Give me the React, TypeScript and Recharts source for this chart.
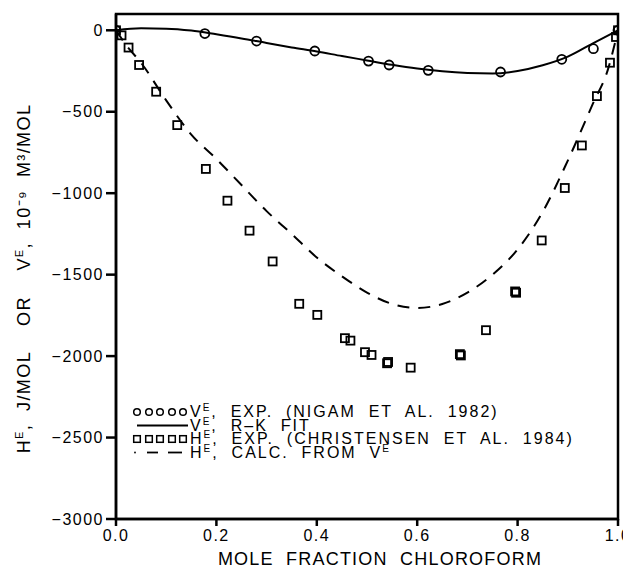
import React from "react";
import { ComposedChart, XAxis, YAxis, Line, Scatter, ReferenceArea } from "recharts";

const FONT = '"Liberation Sans", Arial, sans-serif';

const xTicks = [0, 0.2, 0.4, 0.6, 0.8, 1.0];
const yTicks = [0, -500, -1000, -1500, -2000, -2500, -3000];

// V^E experimental (Nigam et al. 1982)
const vExpX = [0, 0.177, 0.28, 0.396, 0.503, 0.544, 0.622, 0.766, 0.888, 0.951, 1.0];
const vExpY = [0, -20, -66, -127, -189, -213, -246, -256, -178, -113, 0];

// V^E R-K fit
const rkX = [0, 0.05, 0.1, 0.15, 0.2, 0.25, 0.3, 0.35, 0.4, 0.45, 0.5, 0.55, 0.6, 0.65, 0.7, 0.75, 0.8, 0.85, 0.9, 0.95, 1.0];
const rkY = [0, 12, 10, -2, -25, -50, -78, -105, -130, -158, -185, -212, -235, -252, -262, -265, -250, -215, -162, -80, 0];

// H^E experimental (Christensen et al. 1984)
const hExpX = [0, 0.011, 0.025, 0.046, 0.08, 0.122, 0.179, 0.222, 0.266, 0.312, 0.365, 0.401, 0.456, 0.467, 0.496, 0.509, 0.54, 0.542, 0.587, 0.685, 0.687, 0.737, 0.795, 0.797, 0.848, 0.894, 0.928, 0.958, 0.984, 0.996, 1.0];
const hExpY = [0, -31, -106, -213, -377, -582, -851, -1046, -1230, -1419, -1679, -1747, -1890, -1905, -1976, -1993, -2044, -2036, -2071, -1988, -1996, -1841, -1603, -1611, -1290, -968, -707, -404, -199, -41, 0];

// H^E calculated from V^E
const calcX = [0, 0.02, 0.05, 0.1, 0.15, 0.2, 0.25, 0.3, 0.35, 0.4, 0.45, 0.5, 0.55, 0.6, 0.65, 0.7, 0.75, 0.8, 0.85, 0.9, 0.95, 0.98, 1.0];
const calcY = [0, -90, -200, -430, -640, -790, -950, -1110, -1250, -1395, -1510, -1610, -1680, -1705, -1680, -1610, -1500, -1345, -1115, -800, -450, -240, 0];

const zip = (xs: number[], ys: number[]) => xs.map((x, i) => ({ x, y: ys[i] }));
const vExp = zip(vExpX, vExpY);
const rk = zip(rkX, rkY);
const hExp = zip(hExpX, hExpY);
const calc = zip(calcX, calcY);

const CircleShape = (p: any) => (
  <circle cx={p.cx} cy={p.cy} r={4.5} fill="none" stroke="#000" strokeWidth={1.8} />
);
const SquareShape = (p: any) => (
  <rect x={p.cx - 4} y={p.cy - 4} width={8} height={8} fill="none" stroke="#000" strokeWidth={1.8} />
);

const tickStyle = { fontFamily: FONT, fontSize: 16, fill: "#000", letterSpacing: 1.5 };

const YLabel = (props: any) => {
  const vb = props.viewBox;
  const cx = vb.x + vb.width - 86;
  const cy = vb.y + vb.height / 2 + 12;
  return (
    <text
      x={cx}
      y={cy}
      transform={`rotate(-90 ${cx} ${cy})`}
      textAnchor="middle"
      fontFamily={FONT}
      fontSize={18}
      letterSpacing={1.4}
      fill="#000"
      style={{ whiteSpace: "pre" }}
    >
      <tspan>H</tspan>
      <tspan dy={-7} fontSize={11}>E</tspan>
      <tspan dy={7}>{",  J/MOL    OR    V"}</tspan>
      <tspan dy={-7} fontSize={11}>E</tspan>
      <tspan dy={7}>{",  10⁻⁹  M³/MOL"}</tspan>
    </text>
  );
};

const XLabel = (props: any) => {
  const vb = props.viewBox;
  return (
    <text
      x={vb.x + vb.width / 2 + 13}
      y={vb.y + 46}
      textAnchor="middle"
      fontFamily={FONT}
      fontSize={18}
      letterSpacing={1.2}
      fill="#000"
      style={{ whiteSpace: "pre" }}
    >
      {"MOLE  FRACTION  CHLOROFORM"}
    </text>
  );
};

const legendRows = [
  { text: ",  EXP.  (NIGAM  ET  AL.  1982)", sym: "V" },
  { text: ",  R–K  FIT", sym: "V" },
  { text: ",  EXP.  (CHRISTENSEN  ET  AL.  1984)", sym: "H" },
  { text: ",  CALC.  FROM  V", sym: "H" },
];

const Legend2 = () => {
  const base = 409;
  const step = 13.5;
  const xs = [129, 141, 152, 164, 175];
  return (
    <svg width={623} height={561} style={{ position: "absolute", left: 0, top: 0, pointerEvents: "none" }}>
      {xs.map((x, i) => (
        <circle key={"c" + i} cx={x} cy={base - 5} r={3.3} fill="none" stroke="#000" strokeWidth={1.5} />
      ))}
      <line x1={129} x2={180} y1={base + step - 5} y2={base + step - 5} stroke="#000" strokeWidth={1.8} />
      {xs.map((x, i) => (
        <rect key={"s" + i} x={x - 3.3} y={base + 2 * step - 8.3} width={6.6} height={6.6} fill="none" stroke="#000" strokeWidth={1.5} />
      ))}
      <circle cx={127} cy={base + 3 * step - 5} r={0.9} fill="#000" />
      <line x1={139} x2={150} y1={base + 3 * step - 5} y2={base + 3 * step - 5} stroke="#000" strokeWidth={1.8} />
      <line x1={160} x2={174} y1={base + 3 * step - 5} y2={base + 3 * step - 5} stroke="#000" strokeWidth={1.8} />
      {legendRows.map((r, i) => (
        <text key={"t" + i} x={182} y={base + i * step} fontFamily={FONT} fontSize={16} letterSpacing={2} fill="#000" style={{ whiteSpace: "pre" }}>
          <tspan>{r.sym}</tspan>
          <tspan dy={-6} fontSize={10}>E</tspan>
          <tspan dy={6}>{r.text}</tspan>
          {i === 3 ? <tspan dy={-6} fontSize={10}>E</tspan> : null}
        </text>
      ))}
    </svg>
  );
};

export default function App() {
  return (
    <div style={{ position: "relative", width: 623, height: 561 }}>
      <ComposedChart width={623} height={561} margin={{ top: 6, right: 13, bottom: 20, left: 48 }}>
        <XAxis
          type="number"
          dataKey="x"
          domain={[0, 1]}
          ticks={xTicks}
          tickFormatter={(v: number) => v.toFixed(1)}
          height={30}
          stroke="#000"
          strokeWidth={2.5}
          tickSize={7}
          tickMargin={4}
          tick={tickStyle}
          allowDataOverflow
          label={<XLabel />}
        />
        <YAxis
          type="number"
          dataKey="y"
          domain={[-3000, 100]}
          ticks={yTicks}
          tickFormatter={(v: number) => (v < 0 ? "−" + Math.abs(v) : String(v))}
          width={60}
          stroke="#000"
          strokeWidth={2.5}
          tickSize={10}
          tickMargin={2}
          tick={tickStyle}
          allowDataOverflow
          label={<YLabel />}
        />
        <ReferenceArea x1={0} x2={1} y1={-3000} y2={100} fill="none" stroke="#000" strokeWidth={2.5} ifOverflow="visible" />
        <Line data={rk} dataKey="y" type="monotone" stroke="#000" strokeWidth={2} dot={false} isAnimationActive={false} />
        <Line data={calc} dataKey="y" type="monotone" stroke="#000" strokeWidth={2} strokeDasharray="12 9" dot={false} isAnimationActive={false} />
        <Scatter data={vExp} dataKey="y" shape={CircleShape} isAnimationActive={false} />
        <Scatter data={hExp} dataKey="y" shape={SquareShape} isAnimationActive={false} />
      </ComposedChart>
      <Legend2 />
    </div>
  );
}
